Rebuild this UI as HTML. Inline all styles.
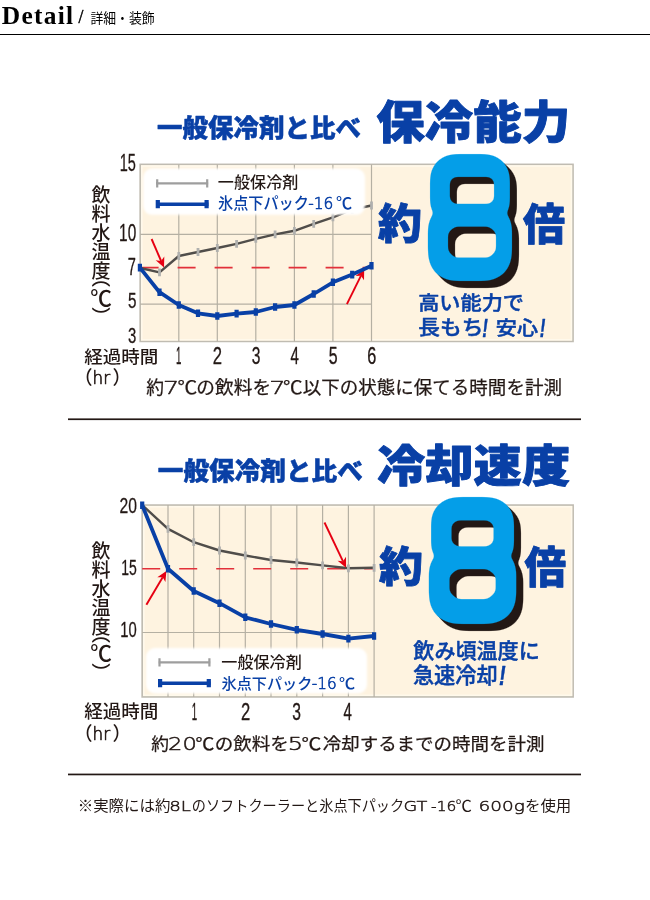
<!DOCTYPE html>
<html lang="ja">
<head>
<meta charset="utf-8">
<title>Detail / 詳細・装飾</title>
<style>
html,body{margin:0;padding:0;background:#fff}
body{width:650px;height:900px;position:relative;overflow:hidden;font-family:"Liberation Sans","Noto Sans CJK JP",sans-serif}
svg{position:absolute;left:0;top:0;display:block}
text{white-space:pre}
.t0{font-family:"Liberation Serif","Noto Serif CJK JP",serif;font-weight:700;fill:#000}
.t1{font-family:"DejaVu Sans","Liberation Sans",sans-serif;font-weight:200;fill:#000;stroke:#000;stroke-width:0.5px;stroke-linejoin:round}
.t2{font-family:"Liberation Sans","Noto Sans CJK JP",sans-serif;font-weight:400;fill:#000}
.t3{font-family:"Liberation Sans","Noto Sans CJK JP",sans-serif;font-weight:900;fill:#0940a6;stroke:#0940a6;stroke-width:0.5px;stroke-linejoin:round}
.t4{font-family:"Liberation Sans","Noto Sans CJK JP",sans-serif;font-weight:900;fill:#0940a6;stroke:#0940a6;stroke-width:0.9px;stroke-linejoin:round}
.t5{font-family:"Liberation Sans","Noto Sans CJK JP",sans-serif;font-weight:400;fill:#231815;stroke:#231815;stroke-width:0.3px;stroke-linejoin:round}
.t6{font-family:"Liberation Sans","Noto Sans CJK JP",sans-serif;font-weight:500;fill:#231815}
.t7{font-family:"Liberation Sans","Noto Sans CJK JP",sans-serif;font-weight:500;fill:#0940a6}
.t8{font-family:"DejaVu Sans","Liberation Sans",sans-serif;font-weight:200;fill:#0940a6;stroke:#0940a6;stroke-width:0.6px;stroke-linejoin:round}
.t9{font-family:"Liberation Sans","Noto Sans CJK JP",sans-serif;font-weight:900;fill:#0940a6;stroke:#0940a6;stroke-width:0.8px;stroke-linejoin:round}
.t10{font-family:"Liberation Sans","Noto Sans CJK JP",sans-serif;font-weight:500;fill:#0940a6;stroke:#0940a6;stroke-width:0.45px;stroke-linejoin:round}
.t11{font-family:"Liberation Sans","Noto Sans CJK JP",sans-serif;font-weight:700;fill:#0940a6;font-style:italic;stroke:#0940a6;stroke-width:0.5px;stroke-linejoin:round}
.t12{font-family:"Liberation Sans","Noto Sans CJK JP",sans-serif;font-weight:400;fill:#231815;stroke:#231815;stroke-width:0.35px;stroke-linejoin:round}
.t13{font-family:"DejaVu Sans","Liberation Sans",sans-serif;font-weight:200;fill:#231815;stroke:#231815;stroke-width:0.7px;stroke-linejoin:round}
.t14{font-family:"Liberation Sans","Noto Sans CJK JP",sans-serif;font-weight:400;fill:#231815;stroke:#231815;stroke-width:0.25px;stroke-linejoin:round}
.t15{font-family:"DejaVu Sans","Liberation Sans",sans-serif;font-weight:200;fill:#231815;stroke:#231815;stroke-width:0.5px;stroke-linejoin:round}
.t16{font-family:"Liberation Sans","Noto Sans CJK JP",sans-serif;font-weight:400;fill:#231815}
.bg{fill:#fef3e0;stroke:#c0bcb2;stroke-width:1.7}
.hl{fill:none;stroke:#fff9eb;stroke-width:1.6}
.gr{fill:none;stroke:#b5b0a3;stroke-width:1.2}
.rd{fill:none;stroke:#e2303a;stroke-width:1.6;stroke-dasharray:18 19}
.gl{fill:none;stroke:#504d4a;stroke-width:2.4;stroke-linejoin:round}
.gm{fill:none;stroke:#b0b0ae;stroke-width:2.8}
.bl{fill:none;stroke:#0940a6;stroke-width:3.8;stroke-linejoin:round}
.bm{fill:none;stroke:#0940a6;stroke-width:4.2}
.lg{fill:#fff;filter:url(#soft)}
.lgg{fill:none;stroke:#9e9e9e;stroke-width:2.2}
.lgb{fill:none;stroke:#0940a6;stroke-width:3.6}
.ar{fill:none;stroke:#e60012;stroke-width:1.9}
.ah{fill:#e60012}
.rule{fill:#231815}
.e8{font-family:"DejaVu Sans","Liberation Sans",sans-serif;font-weight:200;font-size:100px;fill:#049ee8}
.vt{font-family:"Liberation Sans","Noto Sans CJK JP",sans-serif;font-weight:500;fill:#231815;writing-mode:vertical-rl}
.vp{font-feature-settings:"vhal"}
</style>
</head>
<body>
<svg width="650" height="900" viewBox="0 0 650 900">
<defs><filter id="soft" x="-5%" y="-10%" width="110%" height="120%"><feGaussianBlur stdDeviation="0.9"/></filter>
<filter id="f8a" filterUnits="userSpaceOnUse" x="383.1" y="124.5" width="184.2" height="197.1" color-interpolation-filters="sRGB">
<feMorphology in="SourceAlpha" operator="dilate" radius="30 4" result="d1"/>
<feMorphology in="d1" operator="erode" radius="30 4" result="S"/>
<feComposite in="S" in2="SourceAlpha" operator="out" result="K"/>
<feFlood flood-color="#000" x="383.1" y="124.5" width="184.2" height="90.8" result="up"/>
<feFlood flood-color="#000" x="383.1" y="215.3" width="184.2" height="106.3" result="lo"/>
<feComposite in="K" in2="up" operator="in" result="Ku0"/>
<feComposite in="K" in2="lo" operator="in" result="Kl0"/>
<feMorphology in="Ku0" operator="erode" radius="12 14" result="Ku1"/>
<feMorphology in="Kl0" operator="erode" radius="12 14" result="Kl1"/>
<feMorphology in="Ku1" operator="dilate" radius="17 9" result="Ku2"/>
<feMorphology in="Kl1" operator="dilate" radius="16 8" result="Kl2"/>
<feOffset in="Ku2" dx="2" dy="0" result="Ku"/>
<feOffset in="Kl2" dx="2" dy="-0.5" result="Kl"/>
<feMerge result="K3"><feMergeNode in="Ku"/><feMergeNode in="Kl"/></feMerge>
<feMorphology in="S" operator="dilate" radius="12 9" result="O"/>
<feComposite in="O" in2="K3" operator="out" result="F0"/>
<feGaussianBlur in="F0" stdDeviation="2.0" result="Fb"/>
<feComponentTransfer in="Fb" result="F"><feFuncA type="linear" slope="5.0" intercept="-2.00"/></feComponentTransfer>
<feFlood flood-color="#049ee8" result="cy"/>
<feComposite in="cy" in2="F" operator="in" result="blue"/>
<feFlood flood-color="#231815" result="ink"/>
<feComposite in="ink" in2="F" operator="in" result="dark"/>
<feOffset in="dark" dx="3.5" dy="3.5" result="s1"/>
<feOffset in="dark" dx="7.0" dy="7.0" result="s2"/>
<feMerge><feMergeNode in="s2"/><feMergeNode in="s1"/><feMergeNode in="blue"/></feMerge>
</filter>
<filter id="f8b" filterUnits="userSpaceOnUse" x="383.9" y="466.4" width="187.4" height="197.5" color-interpolation-filters="sRGB">
<feMorphology in="SourceAlpha" operator="dilate" radius="30 4" result="d1"/>
<feMorphology in="d1" operator="erode" radius="30 4" result="S"/>
<feComposite in="S" in2="SourceAlpha" operator="out" result="K"/>
<feFlood flood-color="#000" x="383.9" y="466.4" width="187.4" height="91.0" result="up"/>
<feFlood flood-color="#000" x="383.9" y="557.4" width="187.4" height="106.5" result="lo"/>
<feComposite in="K" in2="up" operator="in" result="Ku0"/>
<feComposite in="K" in2="lo" operator="in" result="Kl0"/>
<feMorphology in="Ku0" operator="erode" radius="12 14" result="Ku1"/>
<feMorphology in="Kl0" operator="erode" radius="12 14" result="Kl1"/>
<feMorphology in="Ku1" operator="dilate" radius="15 8" result="Ku2"/>
<feMorphology in="Kl1" operator="dilate" radius="14 7" result="Kl2"/>
<feOffset in="Ku2" dx="0.4" dy="0" result="Ku"/>
<feOffset in="Kl2" dx="0.4" dy="-1" result="Kl"/>
<feMerge result="K3"><feMergeNode in="Ku"/><feMergeNode in="Kl"/></feMerge>
<feMorphology in="S" operator="dilate" radius="12 9" result="O"/>
<feComposite in="O" in2="K3" operator="out" result="F0"/>
<feGaussianBlur in="F0" stdDeviation="2.0" result="Fb"/>
<feComponentTransfer in="Fb" result="F"><feFuncA type="linear" slope="5.0" intercept="-2.00"/></feComponentTransfer>
<feFlood flood-color="#049ee8" result="cy"/>
<feComposite in="cy" in2="F" operator="in" result="blue"/>
<feFlood flood-color="#231815" result="ink"/>
<feComposite in="ink" in2="F" operator="in" result="dark"/>
<feOffset in="dark" dx="3.5" dy="3.5" result="s1"/>
<feOffset in="dark" dx="7.0" dy="7.0" result="s2"/>
<feMerge><feMergeNode in="s2"/><feMergeNode in="s1"/><feMergeNode in="blue"/></feMerge>
</filter>
</defs>
<rect x="0" y="34" width="650" height="1" fill="#000"/>
<g id="chart1">
<rect class="bg" x="140.2" y="164.4" width="432.8" height="177.0"/>
<rect class="hl" x="141.8" y="166.0" width="429.6" height="173.8"/>
<path class="gr" d="M178.8 164.4V341.4M217.3 164.4V341.4M255.8 164.4V341.4M294.4 164.4V341.4M332.9 164.4V341.4M371.5 164.4V341.4M140.2 234.3H371.5M140.2 304.2H371.5"/>
<path class="rd" d="M140.6 267.6H371.5"/>
<polyline class="gl" points="140.2,268.0 159.5,272.4 178.8,256.0 198.0,252.0 217.3,248.0 236.6,243.8 255.8,238.8 275.1,234.4 294.4,230.8 313.7,223.8 332.9,217.4 352.2,209.5 371.5,205.5"/>
<path class="gm" d="M159.5 268.5v7.8M178.8 252.1v7.8M198.0 248.1v7.8M217.3 244.1v7.8M236.6 239.9v7.8M255.8 234.9v7.8M275.1 230.5v7.8M294.4 226.9v7.8M313.7 219.9v7.8M332.9 213.5v7.8M352.2 205.6v7.8M371.5 201.6v7.8"/>
<rect class="lg" x="143.2" y="168.6" width="221.8" height="46.2" rx="9"/>
<path class="lgg" d="M156.0 183.4H208.4M157.2 179.3v8.2M207.2 179.3v8.2"/>
<path class="lgb" d="M156.0 204.2H208.4"/><path class="bm" d="M157.8 200.1v8.2M206.6 200.1v8.2"/>
<path class="ar" d="M151.6 239.0L161.1 261.0"/><path class="ah" d="M164.0 267.6L155.7 260.3L161.1 261.0L164.3 256.6Z"/>
<path class="ar" d="M346.9 304.2L361.0 275.7"/><path class="ah" d="M364.2 269.2L364.0 280.2L361.0 275.7L355.6 276.1Z"/>
<polyline class="bl" points="139.9,267.6 159.5,292.2 178.8,305.0 198.0,313.3 217.3,316.0 236.6,313.6 255.8,312.0 275.1,307.0 294.4,305.0 313.7,294.0 332.9,282.3 352.2,274.6 371.5,265.8"/>
<path class="bm" d="M139.9 263.8v7.6M159.5 288.4v7.6M178.8 301.2v7.6M198.0 309.5v7.6M217.3 312.2v7.6M236.6 309.8v7.6M255.8 308.2v7.6M275.1 303.2v7.6M294.4 301.2v7.6M313.7 290.2v7.6M332.9 278.5v7.6M352.2 270.8v7.6M371.5 262.0v7.6"/>
</g>
<rect class="rule" x="68" y="418.4" width="513" height="1.7"/>
<g id="chart2">
<rect class="bg" x="142.2" y="505.1" width="430.9" height="191.8"/>
<rect class="hl" x="143.8" y="506.7" width="427.7" height="188.6"/>
<path class="gr" d="M168.0 505.1V696.9M193.7 505.1V696.9M219.5 505.1V696.9M245.3 505.1V696.9M271.0 505.1V696.9M296.8 505.1V696.9M322.6 505.1V696.9M348.4 505.1V696.9M374.1 505.1V696.9M142.2 632.5H374.1"/>
<path class="rd" d="M142.2 568.7H374.1"/>
<polyline class="gl" points="142.2,505.1 168.0,528.9 193.7,542.2 219.5,550.5 245.3,555.5 271.0,560.0 296.8,562.5 322.6,565.4 348.4,568.3 374.1,567.8"/>
<path class="gm" d="M168.0 525.0v7.8M193.7 538.3v7.8M219.5 546.6v7.8M245.3 551.6v7.8M271.0 556.1v7.8M296.8 558.6v7.8M322.6 561.5v7.8M348.4 564.4v7.8M374.1 563.9v7.8"/>
<rect class="lg" x="146.0" y="648.0" width="221.0" height="45.4" rx="9"/>
<path class="lgg" d="M158.3 662.3H210.6M159.5 658.2v8.2M209.4 658.2v8.2"/>
<path class="lgb" d="M158.3 683.2H210.6"/><path class="bm" d="M160.1 679.1v8.2M208.8 679.1v8.2"/>
<path class="ar" d="M146.4 604.8L162.7 577.2"/><path class="ah" d="M166.4 571.0L165.4 582.0L162.7 577.2L157.3 577.2Z"/>
<path class="ar" d="M324.5 522.5L343.0 561.3"/><path class="ah" d="M346.1 567.8L337.6 560.8L343.0 561.3L346.0 556.8Z"/>
<polyline class="bl" points="142.2,505.2 168.0,568.7 193.7,591.0 219.5,603.2 245.3,617.3 271.0,624.0 296.8,629.8 322.6,634.0 348.4,638.6 374.1,636.0"/>
<path class="bm" d="M142.2 501.4v7.6M168.0 564.9v7.6M193.7 587.2v7.6M219.5 599.4v7.6M245.3 613.5v7.6M271.0 620.2v7.6M296.8 626.0v7.6M322.6 630.2v7.6M348.4 634.8v7.6M374.1 632.2v7.6"/>
</g>
<rect class="rule" x="68" y="773.6" width="513" height="1.7"/>
<g id="labels">
<text class="t0" transform="translate(1.85 23.54) scale(0.978 1)" font-size="26.00" letter-spacing="1.30">Detail</text>
<text><tspan class="t1" x="78.29" y="22.37" font-size="15.37" textLength="10.44" lengthAdjust="spacingAndGlyphs">/ </tspan><tspan class="t2" x="90.41" y="22.97" font-size="13.62" textLength="64.30" lengthAdjust="spacingAndGlyphs">詳細・装飾</tspan></text>
<text class="t3" transform="translate(156.89 137.00) scale(1.020 1)" font-size="25.00">一般保冷剤と比べ</text>
<text class="t4" transform="translate(376.16 139.03) scale(1.064 1)" font-size="45.61">保冷能力</text>
<text class="t5" transform="translate(119.73 171.41) scale(0.613 1)" font-size="23.66">15</text>
<text class="t5" transform="translate(119.07 241.22) scale(0.667 1)" font-size="23.10">10</text>
<text class="t5" transform="translate(127.82 275.22) scale(0.627 1)" font-size="23.24">7</text>
<text class="t5" transform="translate(127.94 308.42) scale(0.671 1)" font-size="22.68">5</text>
<text class="t5" transform="translate(128.10 342.82) scale(0.657 1)" font-size="22.68">3</text>
<text class="vt" x="99.10" y="185.20" font-size="19">飲料水温度<tspan class="vp" dy="-2.2">（<tspan font-size="21.7" dy="-1.2">℃</tspan><tspan dy="-0.2">）</tspan></tspan></text>
<text class="t6" transform="translate(217.86 188.14) scale(1.034 1)" font-size="15.58">一般保冷剤</text>
<text><tspan class="t7" x="218.05" y="208.89" font-size="15.64" textLength="90.82" lengthAdjust="spacingAndGlyphs">氷点下パック</tspan><tspan class="t8" x="308.28" y="208.89" font-size="15.64" textLength="25.14" lengthAdjust="spacingAndGlyphs">-16</tspan><tspan class="t7" x="335.91" y="208.89" font-size="15.64" textLength="16.17" lengthAdjust="spacingAndGlyphs">℃</tspan></text>
<text class="t9" transform="translate(378.06 239.28) scale(1.047 1)" font-size="42.04">約</text><g filter="url(#f8a)"><text class="e8" transform="translate(427.32 270.44) scale(1.345 1.440)">8</text></g><text class="t9" transform="translate(522.90 239.61) scale(0.980 1)" font-size="42.92">倍</text>
<text class="t10" transform="translate(418.15 309.82) scale(1.084 1)" font-size="19.53">高い能力で</text>
<text><tspan class="t10" x="418.34" y="334.74" font-size="20.38" textLength="65.07" lengthAdjust="spacingAndGlyphs">長もち</tspan><tspan class="t11" x="482.14" y="336.55" font-size="25.94" textLength="10.32" lengthAdjust="spacingAndGlyphs">! </tspan><tspan class="t10" x="495.77" y="335.00" font-size="19.73" textLength="42.32" lengthAdjust="spacingAndGlyphs">安心</tspan><tspan class="t11" x="539.84" y="336.55" font-size="25.94" textLength="5.63" lengthAdjust="spacingAndGlyphs">!</tspan></text>
<text class="t6" transform="translate(84.23 362.67) scale(1.074 1)" font-size="17.26">経過時間</text>
<text class="t12" transform="translate(175.90 363.78) scale(0.402 1)" font-size="24.01">1</text>
<text class="t12" transform="translate(212.66 363.78) scale(0.693 1)" font-size="24.01">2</text>
<text class="t12" transform="translate(251.65 363.78) scale(0.650 1)" font-size="24.01">3</text>
<text class="t12" transform="translate(290.43 363.78) scale(0.625 1)" font-size="24.01">4</text>
<text class="t12" transform="translate(328.72 363.78) scale(0.664 1)" font-size="24.01">5</text>
<text class="t12" transform="translate(367.16 363.78) scale(0.678 1)" font-size="24.01">6</text>
<text><tspan class="t6" x="73.97" y="384.52" font-size="18.75" textLength="18.57" lengthAdjust="spacingAndGlyphs">（</tspan><tspan class="t13" x="92.50" y="384.05" font-size="18.29" textLength="17.60" lengthAdjust="spacingAndGlyphs">hr</tspan><tspan class="t6" x="112.56" y="384.52" font-size="18.75" textLength="18.57" lengthAdjust="spacingAndGlyphs">）</tspan></text>
<text><tspan class="t14" x="146.27" y="394.44" font-size="18.14" textLength="17.77" lengthAdjust="spacingAndGlyphs">約</tspan><tspan class="t15" x="163.11" y="394.44" font-size="18.14" textLength="16.26" lengthAdjust="spacingAndGlyphs">7</tspan><tspan class="t14" x="177.44" y="394.44" font-size="18.14" textLength="19.73" lengthAdjust="spacingAndGlyphs">℃</tspan><tspan class="t14" x="196.33" y="394.44" font-size="18.14" textLength="74.80" lengthAdjust="spacingAndGlyphs">の飲料を</tspan><tspan class="t15" x="269.31" y="394.44" font-size="18.14" textLength="16.26" lengthAdjust="spacingAndGlyphs">7</tspan><tspan class="t14" x="282.94" y="394.44" font-size="18.14" textLength="19.62" lengthAdjust="spacingAndGlyphs">℃</tspan><tspan class="t14" x="302.67" y="394.44" font-size="18.14" textLength="259.30" lengthAdjust="spacingAndGlyphs">以下の状態に保てる時間を計測</tspan></text>
<text class="t3" transform="translate(157.78 479.61) scale(1.030 1)" font-size="24.90">一般保冷剤と比べ</text>
<text class="t4" transform="translate(376.88 482.14) scale(1.084 1)" font-size="44.59">冷却速度</text>
<text class="t5" transform="translate(119.57 513.43) scale(0.701 1)" font-size="22.39">20</text>
<text class="t5" transform="translate(121.17 575.43) scale(0.634 1)" font-size="22.11">15</text>
<text class="t5" transform="translate(120.31 637.42) scale(0.645 1)" font-size="22.96">10</text>
<text class="vt" x="99.10" y="540.80" font-size="19">飲料水温度<tspan class="vp" dy="-2.2">（<tspan font-size="21.7" dy="-1.2">℃</tspan><tspan dy="-0.2">）</tspan></tspan></text>
<text class="t9" transform="translate(379.06 582.33) scale(1.039 1)" font-size="42.45">約</text><g filter="url(#f8b)"><text class="e8" transform="translate(427.44 612.73) scale(1.417 1.446)">8</text></g><text class="t9" transform="translate(524.40 582.67) scale(0.961 1)" font-size="43.33">倍</text>
<text class="t10" transform="translate(413.31 657.67) scale(1.004 1)" font-size="21.00">飲み頃温度に</text>
<text><tspan class="t10" x="412.89" y="682.83" font-size="21.63" textLength="84.87" lengthAdjust="spacingAndGlyphs">急速冷却</tspan><tspan class="t11" x="498.95" y="684.55" font-size="28.26" textLength="6.66" lengthAdjust="spacingAndGlyphs">!</tspan></text>
<text class="t6" transform="translate(221.36 667.84) scale(1.032 1)" font-size="15.58">一般保冷剤</text>
<text><tspan class="t7" x="221.55" y="689.02" font-size="15.32" textLength="90.72" lengthAdjust="spacingAndGlyphs">氷点下パック</tspan><tspan class="t8" x="311.69" y="689.02" font-size="15.32" textLength="24.93" lengthAdjust="spacingAndGlyphs">-16</tspan><tspan class="t7" x="338.91" y="689.02" font-size="15.32" textLength="16.17" lengthAdjust="spacingAndGlyphs">℃</tspan></text>
<text class="t6" transform="translate(84.23 718.33) scale(1.050 1)" font-size="17.68">経過時間</text>
<text class="t12" transform="translate(191.80 720.38) scale(0.400 1)" font-size="24.15">1</text>
<text class="t12" transform="translate(240.94 720.38) scale(0.688 1)" font-size="24.15">2</text>
<text class="t12" transform="translate(292.31 720.38) scale(0.646 1)" font-size="24.15">3</text>
<text class="t12" transform="translate(343.48 720.38) scale(0.621 1)" font-size="24.15">4</text>
<text><tspan class="t6" x="73.97" y="740.73" font-size="18.75" textLength="18.57" lengthAdjust="spacingAndGlyphs">（</tspan><tspan class="t13" x="92.50" y="740.25" font-size="18.29" textLength="17.60" lengthAdjust="spacingAndGlyphs">hr</tspan><tspan class="t6" x="112.56" y="740.73" font-size="18.75" textLength="18.57" lengthAdjust="spacingAndGlyphs">）</tspan></text>
<text><tspan class="t14" x="151.27" y="750.49" font-size="17.61" textLength="17.77" lengthAdjust="spacingAndGlyphs">約</tspan><tspan class="t15" x="168.10" y="750.49" font-size="17.61" textLength="28.70" lengthAdjust="spacingAndGlyphs">20</tspan><tspan class="t14" x="195.57" y="750.49" font-size="17.61" textLength="18.86" lengthAdjust="spacingAndGlyphs">℃</tspan><tspan class="t14" x="214.74" y="750.49" font-size="17.61" textLength="74.07" lengthAdjust="spacingAndGlyphs">の飲料を</tspan><tspan class="t15" x="287.68" y="750.49" font-size="17.61" textLength="15.33" lengthAdjust="spacingAndGlyphs">5</tspan><tspan class="t14" x="301.63" y="750.49" font-size="17.61" textLength="19.84" lengthAdjust="spacingAndGlyphs">℃</tspan><tspan class="t14" x="322.67" y="750.49" font-size="17.61" textLength="221.90" lengthAdjust="spacingAndGlyphs">冷却するまでの時間を計測</tspan></text>
<text><tspan class="t16" x="77.74" y="810.86" font-size="14.89" textLength="92.59" lengthAdjust="spacingAndGlyphs">※実際には約</tspan><tspan class="t15" x="169.31" y="810.86" font-size="14.89" textLength="21.73" lengthAdjust="spacingAndGlyphs">8L</tspan><tspan class="t16" x="191.77" y="810.86" font-size="14.89" textLength="212.43" lengthAdjust="spacingAndGlyphs">のソフトクーラーと氷点下パック</tspan><tspan class="t15" x="403.43" y="810.86" font-size="14.89" textLength="29.51" lengthAdjust="spacingAndGlyphs">GT </tspan><tspan class="t15" x="431.13" y="810.86" font-size="14.89" textLength="25.14" lengthAdjust="spacingAndGlyphs">-16</tspan><tspan class="t16" x="455.64" y="810.86" font-size="14.89" textLength="20.97" lengthAdjust="spacingAndGlyphs">℃ </tspan><tspan class="t15" x="478.59" y="810.86" font-size="14.89" textLength="46.25" lengthAdjust="spacingAndGlyphs">600g</tspan><tspan class="t16" x="525.01" y="810.86" font-size="14.89" textLength="46.29" lengthAdjust="spacingAndGlyphs">を使用</tspan></text>
</g>
</svg>
</body>
</html>
